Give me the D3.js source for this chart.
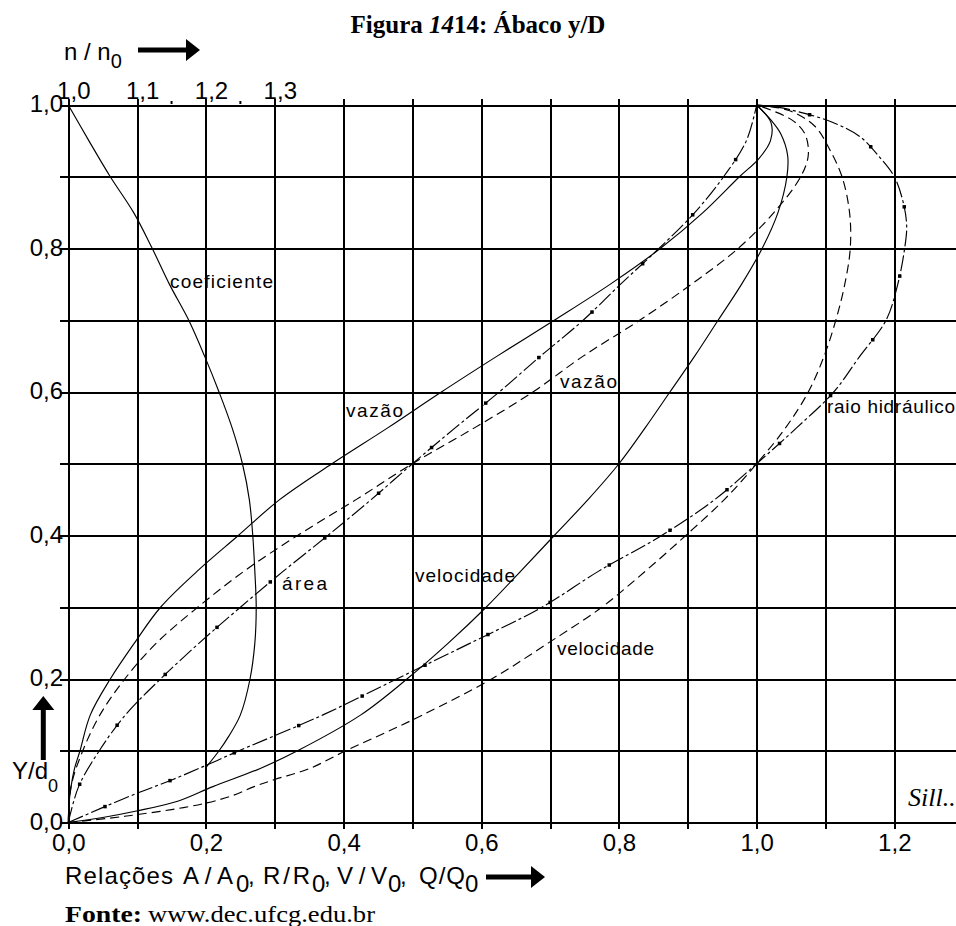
<!DOCTYPE html>
<html><head><meta charset="utf-8">
<script src="https://cdn.jsdelivr.net/npm/d3@7"></script>
<style>
body{margin:0;background:#fff}
svg{display:block}
.num{font-family:"Liberation Sans",Arial,sans-serif;font-size:24px;fill:#000}
.lbl{font-family:"Liberation Sans",Arial,sans-serif;font-size:19px;fill:#000}
</style>
</head><body>
<svg id="c" width="956" height="926"></svg>
<script>
// ---------- DATA ----------
const gridXValues = [0,0.1,0.2,0.3,0.4,0.5,0.6,0.7,0.8,0.9,1.0,1.1,1.2];
const gridYValues = [0,0.1,0.2,0.3,0.4,0.5,0.6,0.7,0.8,0.9,1.0];
const xTickValues = [0,0.2,0.4,0.6,0.8,1.0,1.2];
const xTickLabels = ["0,0","0,2","0,4","0,6","0,8","1,0","1,2"];
const yTickValues = [0,0.2,0.4,0.6,0.8,1.0];
const yTickLabels = ["0,0","0,2","0,4","0,6","0,8","1,0"];
const nTickValues = [1.0,1.1,1.2,1.3];
const nTickLabels = ["1,0","1,1","1,2","1,3"];
const nMinorTicks = [1.15,1.25];

// coefficient n/n0 vs y/D  [n/n0, y/D]
const coeficiente = [[1.000,1.0],[1.030,0.95],[1.061,0.90],[1.095,0.85],[1.122,0.80],[1.147,0.75],[1.175,0.70],[1.198,0.65],[1.219,0.60],[1.238,0.55],[1.253,0.50],[1.263,0.45],[1.268,0.40],[1.271,0.35],[1.273,0.30],[1.271,0.25],[1.264,0.20],[1.250,0.15],[1.233,0.12],[1.219,0.10],[1.201,0.078]];
// Q/Q0, n variable (solid)  [Q/Q0, y/D]
const vazaoSolid = [[0,0],[0.001,0.025],[0.004,0.05],[0.009,0.075],[0.017,0.10],[0.032,0.15],[0.061,0.20],[0.096,0.25],[0.134,0.30],[0.187,0.35],[0.247,0.40],[0.307,0.45],[0.383,0.50],[0.464,0.55],[0.542,0.60],[0.623,0.65],[0.706,0.70],[0.787,0.75],[0.860,0.80],[0.922,0.85],[0.975,0.90],[1.003,0.925],[1.020,0.95],[1.021,0.975],[1.0,1.0]];
// Q/Q0, n constant (dashed)
const vazaoDashed = [[0,0],[0.004,0.05],[0.021,0.10],[0.046,0.15],[0.082,0.20],[0.128,0.25],[0.188,0.30],[0.255,0.35],[0.333,0.40],[0.418,0.45],[0.50,0.50],[0.590,0.55],[0.675,0.60],[0.748,0.65],[0.830,0.70],[0.905,0.75],[0.973,0.80],[1.025,0.85],[1.064,0.90],[1.075,0.93],[1.070,0.96],[1.050,0.98],[1.0,1.0]];
// A/A0 (dash-dot)
const area = [[0,0],[0.015,0.05],[0.045,0.10],[0.083,0.15],[0.134,0.20],[0.190,0.25],[0.250,0.30],[0.312,0.35],[0.377,0.40],[0.440,0.45],[0.50,0.50],[0.562,0.55],[0.626,0.60],[0.686,0.65],[0.748,0.70],[0.802,0.75],[0.858,0.80],[0.910,0.85],[0.952,0.90],[0.985,0.95],[1.0,1.0]];
// R/R0 (dash-dot)
const raio = [[0,0],[0.048,0.02],[0.098,0.04],[0.152,0.06],[0.201,0.08],[0.248,0.10],[0.370,0.15],[0.477,0.20],[0.584,0.25],[0.688,0.30],[0.770,0.35],[0.862,0.40],[0.939,0.45],[1.0,0.50],[1.058,0.55],[1.112,0.60],[1.150,0.65],[1.188,0.70],[1.205,0.75],[1.215,0.80],[1.218,0.83],[1.214,0.86],[1.200,0.90],[1.178,0.928],[1.150,0.956],[1.110,0.976],[1.063,0.990],[1.030,0.997],[1.0,1.0]];
// V/V0, n constant (dashed)
const velocDashed = [[0,0],[0.06,0.006],[0.10,0.011],[0.15,0.018],[0.20,0.027],[0.24,0.038],[0.27,0.05],[0.30,0.06],[0.35,0.075],[0.403,0.10],[0.46,0.125],[0.515,0.15],[0.615,0.20],[0.697,0.25],[0.775,0.30],[0.838,0.35],[0.897,0.40],[0.953,0.45],[1.0,0.50],[1.042,0.55],[1.075,0.60],[1.098,0.65],[1.115,0.70],[1.128,0.75],[1.136,0.80],[1.135,0.85],[1.124,0.90],[1.105,0.94],[1.085,0.97],[1.048,0.992],[1.0,1.0]];
// V/V0, n variable (solid)
const velocSolid = [[0,0],[0.05,0.007],[0.099,0.016],[0.16,0.03],[0.21,0.05],[0.278,0.075],[0.333,0.10],[0.425,0.15],[0.492,0.20],[0.552,0.25],[0.607,0.30],[0.657,0.35],[0.706,0.40],[0.755,0.45],[0.800,0.50],[0.838,0.55],[0.874,0.60],[0.910,0.65],[0.944,0.70],[0.978,0.75],[1.008,0.80],[1.031,0.85],[1.044,0.90],[1.045,0.93],[1.035,0.96],[1.020,0.98],[1.0,1.0]];

// ---------- CHART ----------
const svg = d3.select("#c");
const x = d3.scaleLinear().domain([0,1.2]).range([68.3,894.3]);
const y = d3.scaleLinear().domain([0,1]).range([822.5,105]);
const n = d3.scaleLinear().domain([1.0,1.3]).range([x(0),x(0.3)]);
const plotH = y(0)-y(1);

// grid - horizontal
const gH = svg.append("g").attr("transform",`translate(60,0)`)
  .call(d3.axisLeft(y).tickValues(gridYValues).tickSize(-(956-60)).tickFormat(""));
// grid - vertical
const gV = svg.append("g").attr("transform",`translate(0,${y(0)+6})`)
  .call(d3.axisBottom(x).tickValues(gridXValues).tickSize(-(plotH+12)).tickFormat(""));
[gH,gV].forEach(g=>{
  g.select(".domain").remove();
  g.selectAll(".tick line").attr("stroke","#000").attr("stroke-width",2).attr("shape-rendering","crispEdges");
});

// tick labels
const lx = svg.append("g").attr("transform",`translate(0,834)`)
  .call(d3.axisBottom(x).tickValues(xTickValues).tickSize(0).tickPadding(0).tickFormat((d,i)=>xTickLabels[i]));
const ly = svg.append("g").attr("transform",`translate(63,-1)`)
  .call(d3.axisLeft(y).tickValues(yTickValues).tickSize(0).tickPadding(0).tickFormat((d,i)=>yTickLabels[i]));
const ln = svg.append("g").attr("transform",`translate(5,99)`)
  .call(d3.axisTop(n).tickValues(nTickValues).tickSize(0).tickPadding(0).tickFormat((d,i)=>nTickLabels[i]));
[lx,ly,ln].forEach(g=>{
  g.select(".domain").remove();
  g.attr("font-size",null).attr("font-family",null);
  g.selectAll("text").attr("class","num").attr("fill","#000");
});
// minor ticks on top
svg.selectAll(".minor").data(nMinorTicks).join("line")
  .attr("x1",d=>n(d)).attr("x2",d=>n(d)).attr("y1",y(1)-4).attr("y2",y(1)-1)
  .attr("stroke","#000").attr("stroke-width",2);

// curves
const line = d3.line().x(d=>x(d[0])).y(d=>y(d[1])).curve(d3.curveCatmullRom.alpha(0.5));
const lineN = d3.line().x(d=>n(d[0])).y(d=>y(d[1])).curve(d3.curveCatmullRom.alpha(0.5));

function draw(data, gen, style){
  const p = svg.append("path").attr("d",gen(data)).attr("fill","none")
    .attr("stroke","#000").attr("stroke-width",1.15);
  if(style==="dashed") p.attr("stroke-dasharray","9,5");
  if(style==="dashdot"){
    p.attr("stroke-dasharray","16,3,3,3");
    const node = p.node(), L = node.getTotalLength();
    for(let s=40; s<L-15; s+=70){
      const pt = node.getPointAtLength(s);
      svg.append("rect").attr("x",pt.x-1.75).attr("y",pt.y-1.75).attr("width",3.5).attr("height",3.5).attr("fill","#000");
    }
  }
}
draw(coeficiente, lineN, "solid");
draw(vazaoSolid, line, "solid");
draw(vazaoDashed, line, "dashed");
draw(area, line, "dashdot");
draw(raio, line, "dashdot");
draw(velocDashed, line, "dashed");
draw(velocSolid, line, "solid");

// curve labels
const labels = [
  {t:"coeficiente", px:170, py:288, w:103},
  {t:"vazão", px:346, py:417, w:57},
  {t:"vazão", px:560, py:388, w:57},
  {t:"área", px:282, py:590, w:45},
  {t:"velocidade", px:415, py:582, w:100},
  {t:"velocidade", px:557, py:655, w:97},
  {t:"raio hidráulico", px:827, py:413, w:128}
];
svg.selectAll(".cl").data(labels).join("text").attr("class","lbl")
  .attr("x",d=>d.px).attr("y",d=>d.py).attr("textLength",d=>d.w).attr("lengthAdjust","spacing")
  .text(d=>d.t);

// title
const title = svg.append("text").attr("x",478).attr("y",33).attr("text-anchor","middle")
  .attr("font-family","'Liberation Serif','Times New Roman',serif").attr("font-weight","bold").attr("font-size",25);
title.append("tspan").text("Figura ");
title.append("tspan").attr("font-style","italic").text("14");
title.append("tspan").text("14: Ábaco y/D");

// n/n0 label
const nl = svg.append("text").attr("class","num").attr("x",64).attr("y",60);
nl.append("tspan").text("n / n");
nl.append("tspan").attr("dy",8).attr("font-size",20).text("0");

// arrows
function arrowRight(x0,x1,yc){
  svg.append("path").attr("d",`M${x0},${yc-2.5}H${x1-14}V${yc-11}L${x1},${yc}L${x1-14},${yc+11}V${yc+2.5}H${x0}Z`).attr("fill","#000");
}
arrowRight(138,200,50);
arrowRight(486,545,877);
// up arrow
svg.append("path").attr("d",`M${43.3-2.5},760V${710}H${43.3-11}L43.3,696L${43.3+11},710H${43.3+2.5}V760Z`).attr("fill","#000");

// Y/d0 label
const yl = svg.append("text").attr("class","num").attr("x",12).attr("y",779).attr("font-size",20);
yl.append("tspan").text("Y/d");
yl.append("tspan").attr("dy",13).attr("font-size",18).text("0");

// x axis title, pieces positioned as in the reference
const xtParts = [
  {t:"Relações", px:65, w:108, sub:false},
  {t:"A/A", px:183, w:50, sub:false},
  {t:"0", px:236, w:11, sub:true},
  {t:",", px:248, w:5, sub:false},
  {t:"R/R", px:263, w:47, sub:false},
  {t:"0", px:312, w:11, sub:true},
  {t:",", px:324, w:5, sub:false},
  {t:"V/V", px:337, w:50, sub:false},
  {t:"0", px:388, w:11, sub:true},
  {t:",", px:400, w:5, sub:false},
  {t:"Q/Q", px:419, w:46, sub:false},
  {t:"0", px:465, w:11, sub:true}
];
svg.selectAll(".xt").data(xtParts).join("text").attr("class","num")
  .attr("x",d=>d.px).attr("y",d=>d.sub?892:884)
  .attr("font-size",d=>d.sub?19:24)
  .attr("textLength",d=>d.t.length>1?d.w:null).attr("lengthAdjust","spacing")
  .text(d=>d.t);

// signature
svg.append("text").attr("x",908).attr("y",806).attr("font-family","'Liberation Serif',serif")
  .attr("font-style","italic").attr("font-size",26).text("Sill..");

// source
const srcFont = "'Liberation Serif','Times New Roman',serif";
svg.append("text").attr("x",65).attr("y",922).attr("font-family",srcFont).attr("font-size",24)
  .attr("font-weight","bold").attr("textLength",77).attr("lengthAdjust","spacingAndGlyphs").text("Fonte:");
svg.append("text").attr("x",148).attr("y",922).attr("font-family",srcFont).attr("font-size",24)
  .attr("textLength",227).attr("lengthAdjust","spacingAndGlyphs").text("www.dec.ufcg.edu.br");
</script>
</body></html>
